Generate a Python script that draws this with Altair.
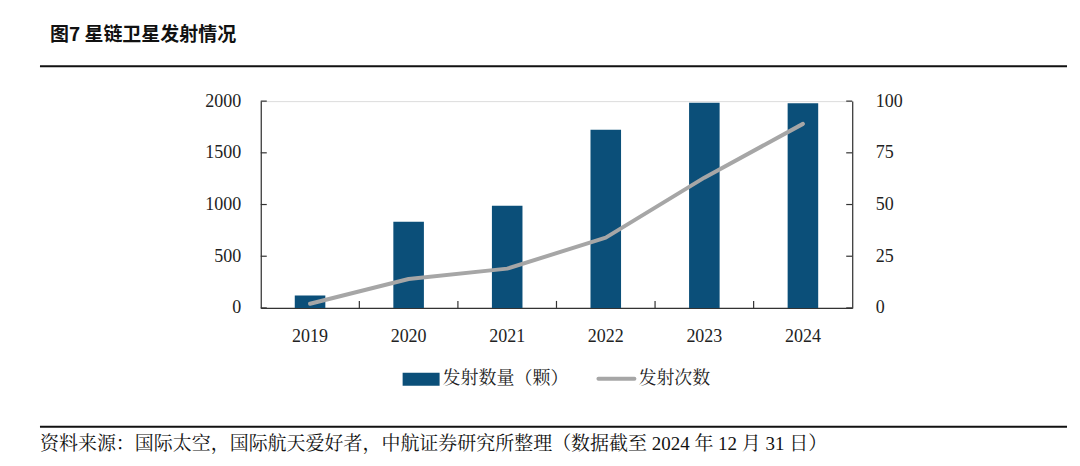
import altair as alt
import pandas as pd

years = ["2019", "2020", "2021", "2022", "2023", "2024"]
satellites = [120, 833, 989, 1722, 1984, 1980]
launches = [2, 14, 19, 34, 63, 89]
left_ticks = [0, 500, 1000, 1500, 2000]
right_ticks = [0, 25, 50, 75, 100]

title_text = "图7  星链卫星发射情况"
legend_bar = "发射数量（颗）"
legend_line = "发射次数"
source_text = "资料来源：国际太空，国际航天爱好者，中航证券研究所整理（数据截至 2024 年 12 月 31 日）"

BAR = "#0B4F79"
GRAY = "#A6A6A6"
FONT = "Liberation Serif, Noto Serif CJK SC, Noto Sans CJK SC"
W, H = 592, 207
NUM = 18

df = pd.DataFrame({"year": years, "sat": satellites, "launch": launches})

xscale = alt.Scale(domain=years, paddingInner=0, paddingOuter=0)
yl = alt.Scale(domain=[0, 2000])
yr = alt.Scale(domain=[0, 100])

xaxis = alt.Axis(title=None, labelAngle=0, ticks=False, labelPadding=20,
                 labelFontSize=NUM, labelFont=FONT, labelColor="#222",
                 domainColor="#333", domainWidth=1.2)

base = alt.Chart(df)

bars = base.mark_bar(color=BAR, width=alt.RelativeBandSize(0.31)).encode(
    x=alt.X("year:N", scale=xscale, sort=years, axis=xaxis),
    y=alt.Y("sat:Q", scale=yl,
            axis=alt.Axis(title=None, values=left_ticks, ticks=False, grid=False, format="d",
                          labelPadding=20, labelFontSize=NUM, labelFont=FONT,
                          labelColor="#222", domainColor="#333", domainWidth=1.2)),
)

line = base.mark_line(color=GRAY, strokeWidth=4, interpolate="linear", strokeCap="round",
                      strokeJoin="round").encode(
    x=alt.X("year:N", scale=xscale, sort=years, bandPosition=0.5, axis=xaxis),
    y=alt.Y("launch:Q", scale=yr,
            axis=alt.Axis(title=None, orient="right", values=right_ticks, ticks=False,
                          grid=False, format="d", labelPadding=23, labelFontSize=NUM, labelFont=FONT,
                          labelColor="#222", domainColor="#333", domainWidth=1.2)),
)

# inward ticks
lt = alt.Chart(pd.DataFrame({"v": left_ticks})).mark_rule(color="#333", strokeWidth=1.2).encode(
    y=alt.Y("v:Q", scale=yl, axis=None), x=alt.value(0), x2=alt.value(6))
rt = alt.Chart(pd.DataFrame({"v": right_ticks})).mark_rule(color="#333", strokeWidth=1.2).encode(
    y=alt.Y("v:Q", scale=yr, axis=None), x=alt.value(W), x2=alt.value(W - 6))
xt = alt.Chart(pd.DataFrame({"year": years[1:]})).mark_rule(color="#333", strokeWidth=1.2).encode(
    x=alt.X("year:N", scale=xscale, bandPosition=0, axis=xaxis), y=alt.value(H), y2=alt.value(H - 7))

# decorations
title = alt.Chart(pd.DataFrame({"t": [title_text]})).mark_text(
    align="left", baseline="middle", fontSize=19, fontWeight="bold",
    font="Noto Sans CJK SC", color="#111").encode(text="t:N", x=alt.value(-211), y=alt.value(-66))
topline = alt.Chart(pd.DataFrame({"a": [0]})).mark_rule(color="#111", strokeWidth=2).encode(
    x=alt.value(-221), x2=alt.value(807), y=alt.value(-35))
botline = alt.Chart(pd.DataFrame({"a": [0]})).mark_rule(color="#111", strokeWidth=2).encode(
    x=alt.value(-221), x2=alt.value(807), y=alt.value(326))
source = alt.Chart(pd.DataFrame({"t": [source_text]})).mark_text(
    align="left", baseline="middle", fontSize=19, font=FONT, color="#111").encode(
    text="t:N", x=alt.value(-221), y=alt.value(343))

leg_rect = alt.Chart(pd.DataFrame({"a": [0]})).mark_rect(color=BAR).encode(
    x=alt.value(142), x2=alt.value(179), y=alt.value(272), y2=alt.value(285))
leg_t1 = alt.Chart(pd.DataFrame({"t": [legend_bar]})).mark_text(
    align="left", baseline="middle", fontSize=18, font=FONT, color="#222").encode(
    text="t:N", x=alt.value(182), y=alt.value(278))
leg_line = alt.Chart(pd.DataFrame({"a": [0]})).mark_rule(color=GRAY, strokeWidth=4, strokeCap="round").encode(
    x=alt.value(338), x2=alt.value(374), y=alt.value(278))
leg_t2 = alt.Chart(pd.DataFrame({"t": [legend_line]})).mark_text(
    align="left", baseline="middle", fontSize=18, font=FONT, color="#222").encode(
    text="t:N", x=alt.value(378), y=alt.value(278))

main = alt.layer(bars, line, lt, rt, xt).resolve_scale(y="independent")

chart = alt.layer(main, title, topline, botline, source, leg_rect, leg_t1, leg_line, leg_t2).properties(
    width=W, height=H,
    autosize=alt.AutoSizeParams(type="none"),
    padding={"left": 253, "top": 93, "right": 220, "bottom": 147},
).configure_view(stroke=None).configure(background="white")

chart.save("out.html", embed_options={"renderer": "svg", "actions": False})
